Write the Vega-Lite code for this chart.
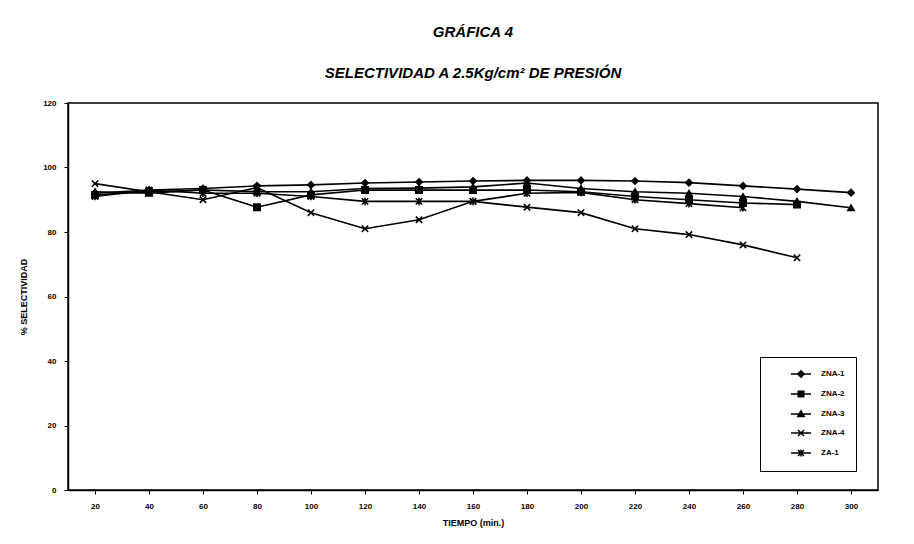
{
  "$schema": "https://vega.github.io/schema/vega-lite/v6.json",
  "autosize": {"type": "none"},
  "width": 810,
  "height": 387,
  "padding": {"left": 68, "top": 103, "right": 36, "bottom": 54},
  "background": "white",
  "title": {
    "text": "GRÁFICA 4",
    "subtitle": "SELECTIVIDAD A 2.5Kg/cm² DE PRESIÓN",
    "font": "Liberation Sans",
    "fontSize": 15,
    "fontStyle": "italic",
    "fontWeight": "bold",
    "color": "black",
    "subtitleFont": "Liberation Sans",
    "subtitleFontSize": 15,
    "subtitleFontStyle": "italic",
    "subtitleFontWeight": "bold",
    "subtitleColor": "black",
    "subtitlePadding": 26,
    "offset": 18,
    "anchor": "middle"
  },
  "config": {
    "view": {"stroke": "black", "strokeWidth": 1.5},
    "axis": {
      "domainColor": "black",
      "tickColor": "black",
      "labelColor": "black",
      "titleColor": "black",
      "labelFont": "Liberation Sans",
      "titleFont": "Liberation Sans",
      "labelFontWeight": "bold",
      "titleFontWeight": "bold",
      "labelFontSize": 8,
      "titleFontSize": 9,
      "grid": false,
      "tickSize": 4
    },
    "legend": {
      "labelFont": "Liberation Sans",
      "labelFontWeight": "bold",
      "labelFontSize": 8,
      "labelColor": "black"
    }
  },
  "data": {
    "values": [
      {"s": "ZNA-1", "t": 20, "v": 92},
      {"s": "ZNA-1", "t": 40, "v": 93},
      {"s": "ZNA-1", "t": 60, "v": 93.5},
      {"s": "ZNA-1", "t": 80, "v": 94.3},
      {"s": "ZNA-1", "t": 100, "v": 94.6},
      {"s": "ZNA-1", "t": 120, "v": 95.2},
      {"s": "ZNA-1", "t": 140, "v": 95.5},
      {"s": "ZNA-1", "t": 160, "v": 95.8},
      {"s": "ZNA-1", "t": 180, "v": 96},
      {"s": "ZNA-1", "t": 200, "v": 96},
      {"s": "ZNA-1", "t": 220, "v": 95.8},
      {"s": "ZNA-1", "t": 240, "v": 95.3},
      {"s": "ZNA-1", "t": 260, "v": 94.3},
      {"s": "ZNA-1", "t": 280, "v": 93.3},
      {"s": "ZNA-1", "t": 300, "v": 92.2},
      {"s": "ZNA-2", "t": 20, "v": 91.5},
      {"s": "ZNA-2", "t": 40, "v": 92.5},
      {"s": "ZNA-2", "t": 60, "v": 93},
      {"s": "ZNA-2", "t": 80, "v": 87.7},
      {"s": "ZNA-2", "t": 100, "v": 91.5},
      {"s": "ZNA-2", "t": 120, "v": 93},
      {"s": "ZNA-2", "t": 140, "v": 93},
      {"s": "ZNA-2", "t": 160, "v": 93},
      {"s": "ZNA-2", "t": 180, "v": 93},
      {"s": "ZNA-2", "t": 200, "v": 92.5},
      {"s": "ZNA-2", "t": 220, "v": 91},
      {"s": "ZNA-2", "t": 240, "v": 90},
      {"s": "ZNA-2", "t": 260, "v": 89},
      {"s": "ZNA-2", "t": 280, "v": 88.5},
      {"s": "ZNA-3", "t": 20, "v": 92.5},
      {"s": "ZNA-3", "t": 40, "v": 92},
      {"s": "ZNA-3", "t": 60, "v": 93},
      {"s": "ZNA-3", "t": 80, "v": 92.5},
      {"s": "ZNA-3", "t": 100, "v": 92.5},
      {"s": "ZNA-3", "t": 120, "v": 93.5},
      {"s": "ZNA-3", "t": 140, "v": 93.6},
      {"s": "ZNA-3", "t": 160, "v": 94},
      {"s": "ZNA-3", "t": 180, "v": 95.2},
      {"s": "ZNA-3", "t": 200, "v": 93.5},
      {"s": "ZNA-3", "t": 220, "v": 92.5},
      {"s": "ZNA-3", "t": 240, "v": 92},
      {"s": "ZNA-3", "t": 260, "v": 91},
      {"s": "ZNA-3", "t": 280, "v": 89.5},
      {"s": "ZNA-3", "t": 300, "v": 87.5},
      {"s": "ZNA-4", "t": 20, "v": 95},
      {"s": "ZNA-4", "t": 40, "v": 92.5},
      {"s": "ZNA-4", "t": 60, "v": 90},
      {"s": "ZNA-4", "t": 80, "v": 93.8},
      {"s": "ZNA-4", "t": 100, "v": 86},
      {"s": "ZNA-4", "t": 120, "v": 81},
      {"s": "ZNA-4", "t": 140, "v": 83.8},
      {"s": "ZNA-4", "t": 160, "v": 89.5},
      {"s": "ZNA-4", "t": 180, "v": 87.7},
      {"s": "ZNA-4", "t": 200, "v": 86},
      {"s": "ZNA-4", "t": 220, "v": 81},
      {"s": "ZNA-4", "t": 240, "v": 79.2},
      {"s": "ZNA-4", "t": 260, "v": 76},
      {"s": "ZNA-4", "t": 280, "v": 72},
      {"s": "ZA-1", "t": 20, "v": 91},
      {"s": "ZA-1", "t": 40, "v": 93},
      {"s": "ZA-1", "t": 60, "v": 92},
      {"s": "ZA-1", "t": 80, "v": 92},
      {"s": "ZA-1", "t": 100, "v": 91},
      {"s": "ZA-1", "t": 120, "v": 89.5},
      {"s": "ZA-1", "t": 140, "v": 89.5},
      {"s": "ZA-1", "t": 160, "v": 89.5},
      {"s": "ZA-1", "t": 180, "v": 92},
      {"s": "ZA-1", "t": 200, "v": 92.3},
      {"s": "ZA-1", "t": 220, "v": 90},
      {"s": "ZA-1", "t": 240, "v": 88.8},
      {"s": "ZA-1", "t": 260, "v": 87.5}
    ]
  },
  "encoding": {
    "x": {
      "field": "t",
      "type": "ordinal",
      "scale": {"type": "point", "padding": 0.5, "domain": [20, 40, 60, 80, 100, 120, 140, 160, 180, 200, 220, 240, 260, 280, 300]},
      "axis": {"title": "TIEMPO (min.)", "labelAngle": 0, "labelPadding": 8, "titlePadding": 8, "domainWidth": 1.5}
    },
    "y": {
      "field": "v",
      "type": "quantitative",
      "scale": {"domain": [0, 120], "nice": false, "zero": true},
      "axis": {"title": "% SELECTIVIDAD", "values": [0, 20, 40, 60, 80, 100, 120], "labelPadding": 8, "titlePadding": 14, "domainWidth": 1.5}
    }
  },
  "layer": [
    {
      "mark": {"type": "line", "color": "black", "strokeWidth": 1.6},
      "encoding": {"detail": {"field": "s"}}
    },
    {
      "mark": {"type": "point", "filled": true, "color": "black", "stroke": "black", "strokeWidth": 1.6, "opacity": 1, "size": 40},
      "encoding": {
        "shape": {
          "field": "s",
          "type": "nominal",
          "scale": {
            "domain": ["ZNA-1", "ZNA-2", "ZNA-3", "ZNA-4", "ZA-1"],
            "range": ["diamond", "square", "triangle-up", "M-1,-1L1,1M-1,1L1,-1", "M-1,-1L1,1M-1,1L1,-1M0,-1.2L0,1.2"]
          },
          "legend": null
        }
      }
    },
    {
      "mark": {"type": "point", "filled": true, "color": "black", "stroke": "black", "strokeWidth": 1.4, "opacity": 0, "size": 0},
      "encoding": {
        "shape": {
          "field": "s",
          "type": "nominal",
          "scale": {
            "domain": ["ZNA-1", "ZNA-2", "ZNA-3", "ZNA-4", "ZA-1"],
            "range": [
              "M-2,0L2,0M0,-0.65L0.65,0L0,0.65L-0.65,0Z",
              "M-2,0L2,0M-0.55,-0.55L0.55,-0.55L0.55,0.55L-0.55,0.55Z",
              "M-2,0L2,0M0,-0.65L0.65,0.5L-0.65,0.5Z",
              "M-2,0L2,0M-0.6,-0.6L0.6,0.6M-0.6,0.6L0.6,-0.6",
              "M-2,0L2,0M-0.6,-0.6L0.6,0.6M-0.6,0.6L0.6,-0.6M0,-0.7L0,0.7"
            ]
          },
          "legend": {
            "title": null,
            "orient": "none",
            "legendX": 692,
            "legendY": 254,
            "strokeColor": "black",
            "fillColor": "white",
            "padding": 11,
            "rowPadding": 7,
            "symbolOffset": 24,
            "symbolSize": 100,
            "labelOffset": 14,
            "labelLimit": 60,
            "encode": {
              "symbols": {
                "update": {
                  "fill": {"value": "black"},
                  "stroke": {"value": "black"},
                  "strokeWidth": {"value": 1.4},
                  "fillOpacity": {"value": 1},
                  "strokeOpacity": {"value": 1},
                  "opacity": {"value": 1}
                }
              }
            }
          }
        }
      }
    }
  ],
  "resolve": {"scale": {"shape": "independent"}}
}
